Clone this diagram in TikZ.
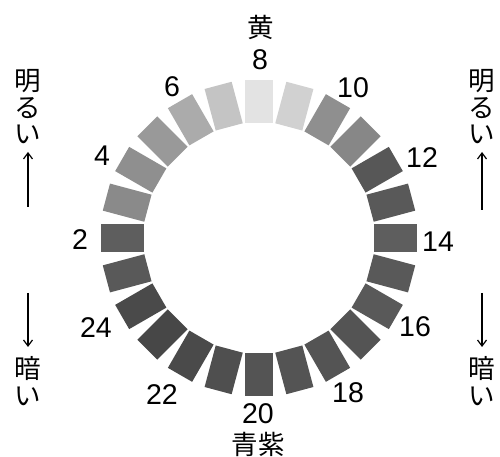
\documentclass[tikz,border=0pt]{standalone}
\usepackage{fontspec}
\setmainfont{Liberation Sans}
\newfontfamily\jp{Noto Sans CJK JP}
\usetikzlibrary{arrows.meta,calc}
\begin{document}
\begin{tikzpicture}[x=1pt,y=1pt,
  blk/.style={rectangle,inner sep=0pt,minimum width=43pt,minimum height=28pt,draw=none},
  num/.style={font=\fontsize{28.5}{28.5}\selectfont,inner sep=0pt},
  jpt/.style={font=\jp\fontsize{26.5}{26.5}\selectfont,inner sep=0pt,align=center},
  arr/.style={line width=1.2pt,-{Straight Barb[length=6pt,width=9pt,line width=1.2pt]}}]
\useasboundingbox (0,0) rectangle (500,457);
\coordinate (c) at (259,219);
\foreach \k/\g in {1/65,2/63,3/46,4/44,5/40,6/33,7/23,8/11,9/18,10/44,11/47,12/66,13/65,14/63,15/65,16/65,17/67,18/67,19/67,20/67,21/69,22/71,23/72,24/71}{
  \pgfmathsetmacro{\ang}{90+(8-\k)*15}
  \node[blk,fill=black!\g,rotate=\ang] (b\k) at ($(c)+(\ang:136.5)$) {};
}
% labels
\node[jpt] (yellow) at (261,430) {黄};
\node[num] (l8) at (260,397) {8};
\node[num] (l6) at (172,370) {6};
\node[num] (l10) at (353,369) {10};
\node[num] (l4) at (102,301) {4};
\node[num] (l12) at (422,299) {12};
\node[num] (l2) at (80,217) {2};
\node[num] (l14) at (438,215) {14};
\node[num] (l24) at (96,129) {24};
\node[num] (l16) at (415,130) {16};
\node[num] (l22) at (162,62) {22};
\node[num] (l18) at (348,64) {18};
\node[num] (l20) at (258,43) {20};
\node[jpt] (violet) at (258,13) {青紫};
% side texts
\node[jpt] (lu) at (28,350) {明\\る\\い};
\node[jpt] (ld) at (28,76) {暗\\い};
\node[jpt] (ru) at (482,350) {明\\る\\い};
\node[jpt] (rd) at (482,76) {暗\\い};
\coordinate (lut) at (28,250);
\coordinate (luh) at (28,305);
\coordinate (ldt) at (28,164);
\coordinate (ldh) at (28,110);
\coordinate (rut) at (482,247);
\coordinate (ruh) at (482,305);
\coordinate (rdt) at (482,164);
\coordinate (rdh) at (482,110);
\draw[arr] (lut) -- (luh);
\draw[arr] (ldt) -- (ldh);
\draw[arr] (rut) -- (ruh);
\draw[arr] (rdt) -- (rdh);
\end{tikzpicture}
\end{document}
